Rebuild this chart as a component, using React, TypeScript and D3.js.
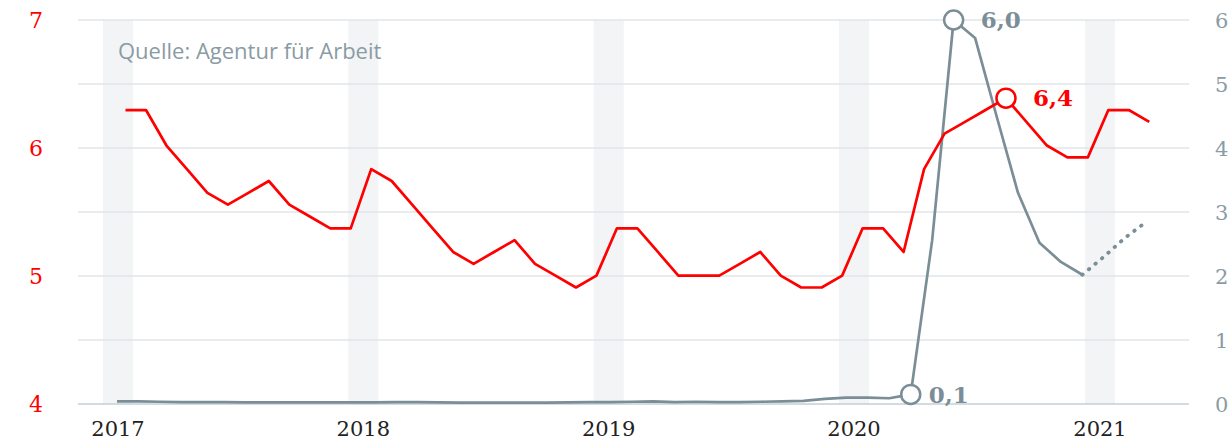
import React from "react";
import * as d3 from "d3";

// ---- data ----
const redMonths: string[] = d3
  .timeMonth.range(new Date(2017, 0, 1), new Date(2021, 3, 1))
  .map((d) => d3.timeFormat("%Y-%m")(d));
// Arbeitslosenquote (%), left axis
const redValues: number[] = [
  6.3, 6.3, 6.0, 5.8, 5.6, 5.5, 5.6, 5.7, 5.5, 5.4, 5.3, 5.3,
  5.8, 5.7, 5.5, 5.3, 5.1, 5.0, 5.1, 5.2, 5.0, 4.9, 4.8, 4.9,
  5.3, 5.3, 5.1, 4.9, 4.9, 4.9, 5.0, 5.1, 4.9, 4.8, 4.8, 4.9,
  5.3, 5.3, 5.1, 5.8, 6.1, 6.2, 6.3, 6.4, 6.2, 6.0, 5.9, 5.9,
  6.3, 6.3, 6.2,
];

const grayMonths: string[] = d3
  .timeMonth.range(new Date(2017, 0, 1), new Date(2021, 1, 1))
  .map((d) => d3.timeFormat("%Y-%m")(d));
// Kurzarbeit (Mio.), right axis; last 3 = estimate (dotted)
const grayValues: number[] = [
  0.04, 0.04, 0.035, 0.03, 0.03, 0.03, 0.025, 0.025, 0.025, 0.025, 0.025, 0.025,
  0.025, 0.03, 0.03, 0.025, 0.02, 0.02, 0.02, 0.02, 0.02, 0.025, 0.03, 0.03,
  0.035, 0.04, 0.03, 0.035, 0.03, 0.03, 0.035, 0.04, 0.05, 0.08, 0.1, 0.1,
  0.09, 0.15, 2.56, 6.0, 5.72, 4.5, 3.3, 2.52, 2.22, 2.02, 2.3, 2.6,
  2.85,
];
const graySolidCount = 46; // up to 2020-10

const yearTicks: number[] = [2017, 2018, 2019, 2020, 2021];
const leftTicks: number[] = [4, 5, 6, 7];
const rightTicks: number[] = [0, 1, 2, 3, 4, 5, 6];

const annotations = [
  { series: "gray", month: "2020-02", label: "0,1" },
  { series: "gray", month: "2020-04", label: "6,0" },
  { series: "red", month: "2020-08", label: "6,4" },
];

const W = 1230;
const H = 441;
const plotLeft = 78;
const plotRight = 1189;
const plotTop = 20;
const plotBottom = 404;

const RED = "#ff0000";
const GRAY = "#7b8e97";
const LABEL_GRAY = "#8a9ba4";

export default function App() {
  const xTime = d3
    .scaleTime()
    .domain([new Date(2017, 0, 1), new Date(2021, 0, 1)])
    .range([118, 1100]);
  const xRed = d3.scalePoint<string>().domain(redMonths).range([125.5, 1149.3]);
  const xGray = d3.scalePoint<string>().domain(grayMonths).range([117, 1146.7]);
  const yRight = d3.scaleLinear().domain([0, 6]).range([plotBottom, plotTop]);
  const yLeftAxis = d3.scaleLinear().domain([4, 7]).range([plotBottom, plotTop]);
  const yRed = d3.scaleLinear().domain([3.815, 7.061]).range([plotBottom, plotTop]);

  const redLine = d3
    .line<number>()
    .x((_, i) => xRed(redMonths[i])!)
    .y((d) => yRed(d));
  const grayLineGen = d3
    .line<[string, number]>()
    .x((d) => xGray(d[0])!)
    .y((d) => yRight(d[1]));

  const grayPairs: [string, number][] = grayMonths.map((m, i) => [m, grayValues[i]]);
  const graySolid = grayPairs.slice(0, graySolidCount);
  const grayDotted = grayPairs.slice(graySolidCount - 1);

  return (
    <svg
      width={W}
      height={H}
      style={{ position: "absolute", left: 0, top: 0, background: "#fff" }}
    >
      {/* year bands */}
      {yearTicks.map((y) => {
        const cx = xTime(new Date(y, 0, 1));
        return (
          <rect
            key={"b" + y}
            x={cx - 15}
            y={plotTop}
            width={30}
            height={plotBottom - plotTop}
            fill="#f2f4f6"
          />
        );
      })}
      {/* gridlines */}
      {rightTicks.map((t) => (
        <line
          key={"g" + t}
          x1={plotLeft}
          x2={plotRight}
          y1={yRight(t)}
          y2={yRight(t)}
          stroke={t === 0 ? "#c3cfd4" : "#e1e6ea"}
          strokeWidth={1.5}
        />
      ))}
      {/* left axis labels */}
      {leftTicks.map((t) => (
        <text
          key={"l" + t}
          x={36}
          y={yLeftAxis(t)}
          dy="0.36em"
          textAnchor="middle"
          fontFamily="DejaVu Serif"
          fontSize={22}
          fill={RED}
        >
          {t}
        </text>
      ))}
      {/* right axis labels */}
      {rightTicks.map((t) => (
        <text
          key={"r" + t}
          x={1215}
          y={yRight(t)}
          dy="0.36em"
          textAnchor="start"
          fontFamily="DejaVu Serif"
          fontSize={21}
          fill={LABEL_GRAY}
        >
          {t}
        </text>
      ))}
      {/* x labels */}
      {yearTicks.map((y) => (
        <text
          key={"x" + y}
          x={xTime(new Date(y, 0, 1))}
          y={436}
          textAnchor="middle"
          fontFamily="DejaVu Serif"
          fontSize={21}
          fill="#222"
        >
          {y}
        </text>
      ))}
      {/* source */}
      <text
        x={118}
        y={59}
        fontFamily="Open Sans"
        fontSize={22}
        fill={LABEL_GRAY}
      >
        Quelle: Agentur für Arbeit
      </text>
      {/* gray line */}
      <path
        d={grayLineGen(graySolid) || ""}
        fill="none"
        stroke={GRAY}
        strokeWidth={2.7}
        strokeLinejoin="round"
      />
      <path
        d={grayLineGen(grayDotted) || ""}
        fill="none"
        stroke={GRAY}
        strokeWidth={3.8}
        strokeLinecap="round"
        strokeDasharray="0.5 8"
      />
      {/* red line */}
      <path
        d={redLine(redValues) || ""}
        fill="none"
        stroke={RED}
        strokeWidth={2.7}
        strokeLinejoin="round"
      />
      {/* annotations */}
      {annotations.map((a) => {
        const isRed = a.series === "red";
        const cx = isRed ? xRed(a.month)! : xGray(a.month)!;
        const v = isRed
          ? redValues[redMonths.indexOf(a.month)]
          : grayValues[grayMonths.indexOf(a.month)];
        const cy = isRed ? yRed(v) : yRight(v);
        const color = isRed ? RED : GRAY;
        const dx = a.label === "0,1" ? 18 : 27;
        return (
          <g key={a.label}>
            <circle cx={cx} cy={cy} r={9.5} fill="#fff" stroke={color} strokeWidth={2.5} />
            <text
              x={cx + dx}
              y={cy}
              dy="0.36em"
              fontFamily="DejaVu Serif"
              fontWeight="bold"
              fontSize={23}
              fill={color}
            >
              {a.label}
            </text>
          </g>
        );
      })}
    </svg>
  );
}
